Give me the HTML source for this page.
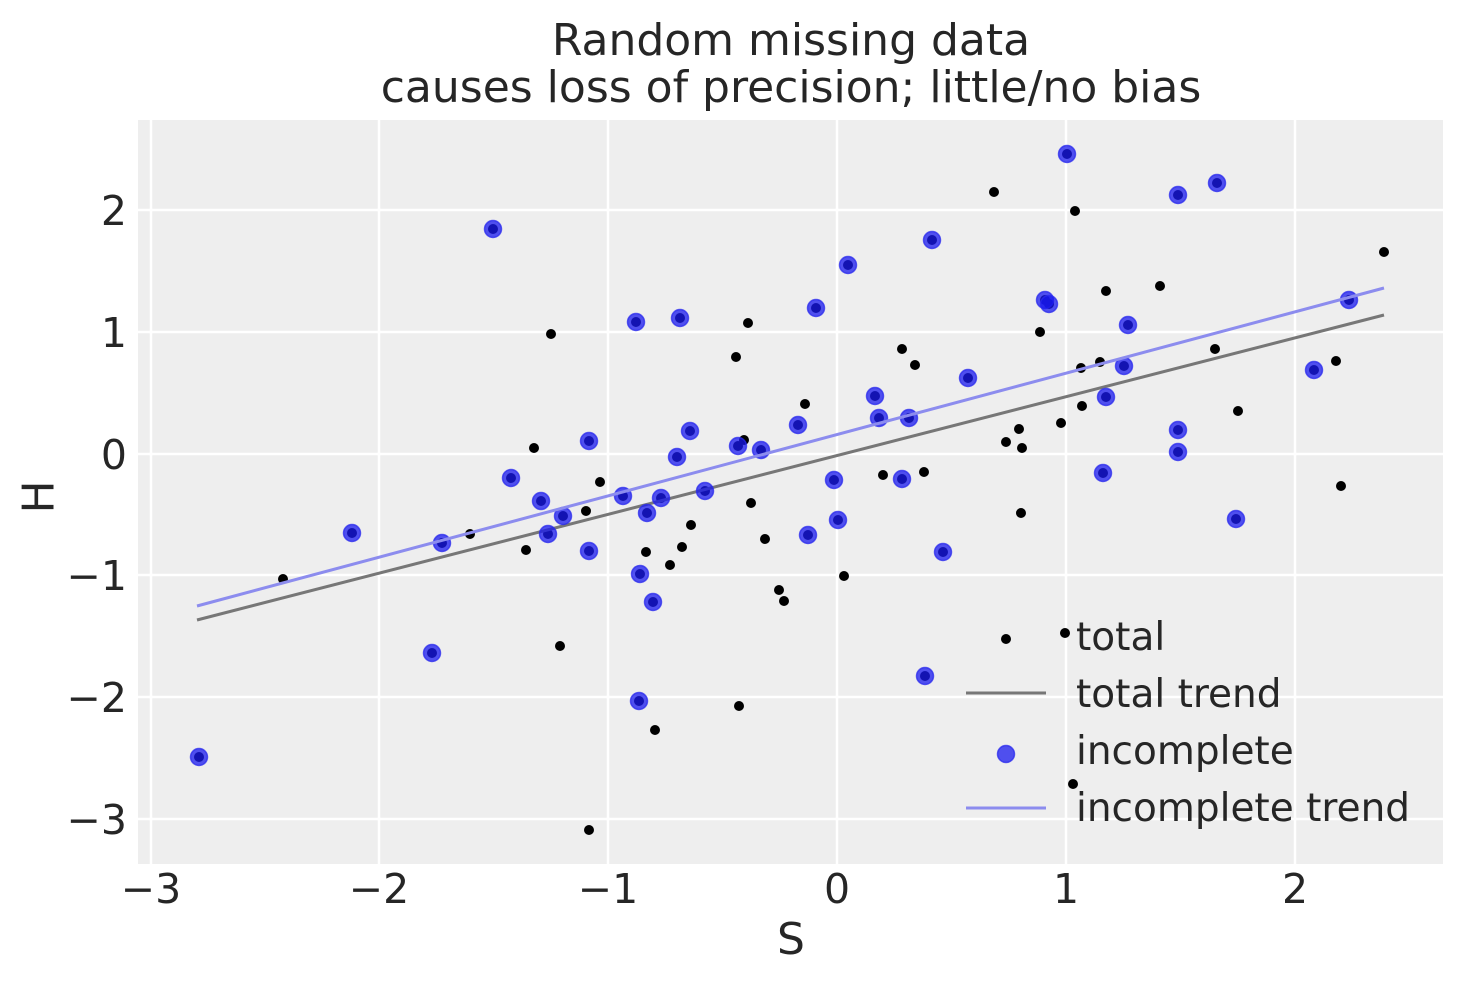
<!DOCTYPE html>
<html><head><meta charset="utf-8"><style>body{margin:0;background:#fff}svg{display:block}</style></head>
<body>
<svg width="1463" height="983" xmlns="http://www.w3.org/2000/svg" font-family="DejaVu Sans, Liberation Sans, sans-serif" fill="#262626">
<rect x="138" y="120" width="1305" height="744" fill="#eeeeee"/>
<g stroke="#ffffff" stroke-width="2.5">
<line x1="151" y1="120" x2="151" y2="864"/><line x1="379" y1="120" x2="379" y2="864"/><line x1="608" y1="120" x2="608" y2="864"/><line x1="837" y1="120" x2="837" y2="864"/><line x1="1066" y1="120" x2="1066" y2="864"/><line x1="1295" y1="120" x2="1295" y2="864"/>
<line x1="138" y1="210" x2="1443" y2="210"/><line x1="138" y1="332" x2="1443" y2="332"/><line x1="138" y1="454" x2="1443" y2="454"/><line x1="138" y1="575" x2="1443" y2="575"/><line x1="138" y1="697" x2="1443" y2="697"/><line x1="138" y1="819" x2="1443" y2="819"/>
</g>
<g font-size="41" text-anchor="middle">
<text x="151" y="903">−3</text><text x="379" y="903">−2</text><text x="608" y="903">−1</text><text x="837" y="903">0</text><text x="1066" y="903">1</text><text x="1295" y="903">2</text>
</g>
<g font-size="41" text-anchor="end">
<text x="127" y="225">2</text><text x="127" y="347">1</text><text x="127" y="469">0</text><text x="127" y="590">−1</text><text x="127" y="712">−2</text><text x="127" y="834">−3</text>
</g>
<text x="791" y="954" font-size="44" text-anchor="middle">S</text>
<text x="39" y="497" font-size="44" text-anchor="middle" dominant-baseline="central" transform="rotate(-90 39 497)">H</text>
<text x="791" y="55" font-size="44" text-anchor="middle">Random missing data</text>
<text x="791" y="102" font-size="44" text-anchor="middle">causes loss of precision; little/no bias</text>
<g fill="#000">
<circle cx="283" cy="579" r="5"/><circle cx="470" cy="534" r="5"/><circle cx="526" cy="550" r="5"/><circle cx="534" cy="448" r="5"/><circle cx="551" cy="334" r="5"/><circle cx="560" cy="646" r="5"/><circle cx="586" cy="511" r="5"/><circle cx="600" cy="482" r="5"/><circle cx="646" cy="552" r="5"/><circle cx="655" cy="730" r="5"/><circle cx="682" cy="547" r="5"/><circle cx="670" cy="565" r="5"/><circle cx="691" cy="525" r="5"/><circle cx="736" cy="357" r="5"/><circle cx="739" cy="706" r="5"/><circle cx="744" cy="440" r="5"/><circle cx="748" cy="323" r="5"/><circle cx="751" cy="503" r="5"/><circle cx="765" cy="539" r="5"/><circle cx="779" cy="590" r="5"/><circle cx="784" cy="601" r="5"/><circle cx="805" cy="404" r="5"/><circle cx="844" cy="576" r="5"/><circle cx="883" cy="475" r="5"/><circle cx="902" cy="349" r="5"/><circle cx="915" cy="365" r="5"/><circle cx="924" cy="472" r="5"/><circle cx="994" cy="192" r="5"/><circle cx="1006" cy="442" r="5"/><circle cx="1019" cy="429" r="5"/><circle cx="1021" cy="513" r="5"/><circle cx="1022" cy="448" r="5"/><circle cx="1040" cy="332" r="5"/><circle cx="1061" cy="423" r="5"/><circle cx="1075" cy="211" r="5"/><circle cx="1081" cy="368" r="5"/><circle cx="1082" cy="406" r="5"/><circle cx="1100" cy="362" r="5"/><circle cx="1106" cy="291" r="5"/><circle cx="1160" cy="286" r="5"/><circle cx="1215" cy="349" r="5"/><circle cx="1238" cy="411" r="5"/><circle cx="1336" cy="361" r="5"/><circle cx="1341" cy="486" r="5"/><circle cx="1384" cy="252" r="5"/><circle cx="589" cy="830" r="5"/>
<circle cx="199" cy="757" r="5"/><circle cx="352" cy="533" r="5"/><circle cx="432" cy="653" r="5"/><circle cx="442" cy="543" r="5"/><circle cx="493" cy="229" r="5"/><circle cx="511" cy="478" r="5"/><circle cx="541" cy="501" r="5"/><circle cx="548" cy="534" r="5"/><circle cx="563" cy="516" r="5"/><circle cx="589" cy="441" r="5"/><circle cx="589" cy="551" r="5"/><circle cx="623" cy="496" r="5"/><circle cx="636" cy="322" r="5"/><circle cx="640" cy="574" r="5"/><circle cx="639" cy="701" r="5"/><circle cx="647" cy="513" r="5"/><circle cx="653" cy="602" r="5"/><circle cx="661" cy="498" r="5"/><circle cx="677" cy="457" r="5"/><circle cx="680" cy="318" r="5"/><circle cx="690" cy="431" r="5"/><circle cx="705" cy="491" r="5"/><circle cx="738" cy="446" r="5"/><circle cx="761" cy="450" r="5"/><circle cx="798" cy="425" r="5"/><circle cx="808" cy="535" r="5"/><circle cx="816" cy="308" r="5"/><circle cx="834" cy="480" r="5"/><circle cx="838" cy="520" r="5"/><circle cx="848" cy="265" r="5"/><circle cx="875" cy="396" r="5"/><circle cx="879" cy="418" r="5"/><circle cx="902" cy="479" r="5"/><circle cx="909" cy="418" r="5"/><circle cx="932" cy="240" r="5"/><circle cx="943" cy="552" r="5"/><circle cx="925" cy="676" r="5"/><circle cx="968" cy="378" r="5"/><circle cx="1045" cy="300" r="5"/><circle cx="1049" cy="304" r="5"/><circle cx="1067" cy="154" r="5"/><circle cx="1106" cy="397" r="5"/><circle cx="1103" cy="473" r="5"/><circle cx="1124" cy="366" r="5"/><circle cx="1128" cy="325" r="5"/><circle cx="1178" cy="195" r="5"/><circle cx="1178" cy="430" r="5"/><circle cx="1178" cy="452" r="5"/><circle cx="1217" cy="183" r="5"/><circle cx="1236" cy="519" r="5"/><circle cx="1314" cy="370" r="5"/><circle cx="1349" cy="300" r="5"/>
</g>
<line x1="197" y1="620" x2="1384" y2="315" stroke="#777" stroke-width="3"/>
<g fill="#1a1aee" fill-opacity="0.75" stroke="#2a2aee" stroke-opacity="0.75" stroke-width="1.5">
<circle cx="199" cy="757" r="8.5"/><circle cx="352" cy="533" r="8.5"/><circle cx="432" cy="653" r="8.5"/><circle cx="442" cy="543" r="8.5"/><circle cx="493" cy="229" r="8.5"/><circle cx="511" cy="478" r="8.5"/><circle cx="541" cy="501" r="8.5"/><circle cx="548" cy="534" r="8.5"/><circle cx="563" cy="516" r="8.5"/><circle cx="589" cy="441" r="8.5"/><circle cx="589" cy="551" r="8.5"/><circle cx="623" cy="496" r="8.5"/><circle cx="636" cy="322" r="8.5"/><circle cx="640" cy="574" r="8.5"/><circle cx="639" cy="701" r="8.5"/><circle cx="647" cy="513" r="8.5"/><circle cx="653" cy="602" r="8.5"/><circle cx="661" cy="498" r="8.5"/><circle cx="677" cy="457" r="8.5"/><circle cx="680" cy="318" r="8.5"/><circle cx="690" cy="431" r="8.5"/><circle cx="705" cy="491" r="8.5"/><circle cx="738" cy="446" r="8.5"/><circle cx="761" cy="450" r="8.5"/><circle cx="798" cy="425" r="8.5"/><circle cx="808" cy="535" r="8.5"/><circle cx="816" cy="308" r="8.5"/><circle cx="834" cy="480" r="8.5"/><circle cx="838" cy="520" r="8.5"/><circle cx="848" cy="265" r="8.5"/><circle cx="875" cy="396" r="8.5"/><circle cx="879" cy="418" r="8.5"/><circle cx="902" cy="479" r="8.5"/><circle cx="909" cy="418" r="8.5"/><circle cx="932" cy="240" r="8.5"/><circle cx="943" cy="552" r="8.5"/><circle cx="925" cy="676" r="8.5"/><circle cx="968" cy="378" r="8.5"/><circle cx="1045" cy="300" r="8.5"/><circle cx="1049" cy="304" r="8.5"/><circle cx="1067" cy="154" r="8.5"/><circle cx="1106" cy="397" r="8.5"/><circle cx="1103" cy="473" r="8.5"/><circle cx="1124" cy="366" r="8.5"/><circle cx="1128" cy="325" r="8.5"/><circle cx="1178" cy="195" r="8.5"/><circle cx="1178" cy="430" r="8.5"/><circle cx="1178" cy="452" r="8.5"/><circle cx="1217" cy="183" r="8.5"/><circle cx="1236" cy="519" r="8.5"/><circle cx="1314" cy="370" r="8.5"/><circle cx="1349" cy="300" r="8.5"/>
</g>
<line x1="197" y1="606" x2="1384" y2="288" stroke="#8c8cee" stroke-width="3"/>
<circle cx="1006" cy="639" r="5" fill="#000"/>
<line x1="966" y1="693" x2="1046" y2="693" stroke="#777" stroke-width="3"/>
<circle cx="1006" cy="754" r="8.5" fill="#1a1aee" fill-opacity="0.75" stroke="#2a2aee" stroke-opacity="0.75" stroke-width="1.5"/>
<line x1="966" y1="808" x2="1046" y2="808" stroke="#8c8cee" stroke-width="3"/>
<g font-size="39">
<text x="1076" y="650">total</text><text x="1076" y="707">total trend</text><text x="1076" y="764">incomplete</text><text x="1076" y="821">incomplete trend</text>
</g>
<circle cx="1065" cy="633" r="5" fill="#000"/><circle cx="1073" cy="784" r="5" fill="#000"/>
</svg>
</body></html>
